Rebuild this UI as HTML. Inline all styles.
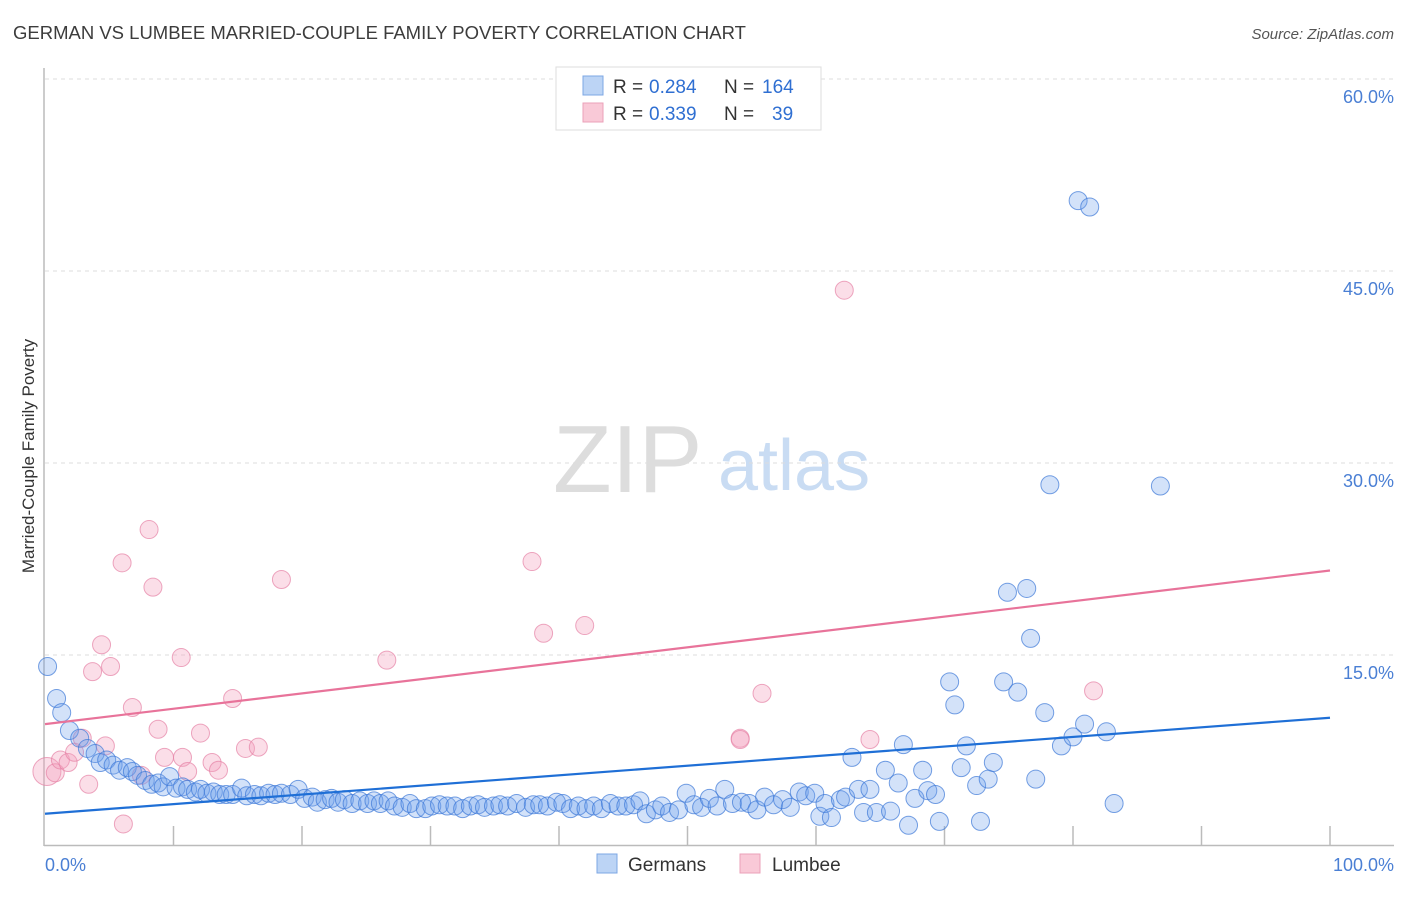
<!DOCTYPE html>
<html><head><meta charset="utf-8"><style>
body{margin:0;background:#fff;font-family:"Liberation Sans",sans-serif;}
svg text{font-family:"Liberation Sans",sans-serif;}
</style></head><body>
<svg width="1406" height="892">
<text x="13" y="39" font-size="18.5" fill="#3c3c3c">GERMAN VS LUMBEE MARRIED-COUPLE FAMILY POVERTY CORRELATION CHART</text>
<text x="1394" y="39" font-size="15" fill="#555" font-style="italic" text-anchor="end">Source: ZipAtlas.com</text>
<text transform="translate(34,456) rotate(-90)" font-size="17" fill="#333" text-anchor="middle">Married-Couple Family Poverty</text>
<g>
<text x="553" y="492" font-size="96" fill="#ddd" font-family="Liberation Serif">ZIP</text>
<text x="718" y="490" font-size="72" fill="#c9dcf3">atlas</text>
</g>
<g id="grid"></g><g id="axes"></g><g id="pts"></g><g id="trend"></g>
<g>
<rect x="556" y="67" width="265" height="63" fill="#fff" stroke="#ddd"/>
<rect x="583" y="76" width="20" height="19" fill="#bcd4f5" stroke="#7da7e4"/>
<rect x="583" y="103" width="20" height="19" fill="#f9c9d7" stroke="#eba1b8"/>
<text x="613" y="93" font-size="19" fill="#333">R =</text>
<text x="649" y="93" font-size="19" fill="#2f6fd2">0.284</text>
<text x="724" y="93" font-size="19" fill="#333">N =</text>
<text x="762" y="93" font-size="19" fill="#2f6fd2">164</text>
<text x="613" y="120" font-size="19" fill="#333">R =</text>
<text x="649" y="120" font-size="19" fill="#2f6fd2">0.339</text>
<text x="724" y="120" font-size="19" fill="#333">N =</text>
<text x="772" y="120" font-size="19" fill="#2f6fd2">39</text>
</g>
<g>
<rect x="597" y="854" width="20" height="19" fill="#bcd4f5" stroke="#7da7e4"/>
<text x="628" y="871" font-size="19" fill="#333">Germans</text>
<rect x="740" y="854" width="20" height="19" fill="#f9c9d7" stroke="#eba1b8"/>
<text x="772" y="871" font-size="19" fill="#333">Lumbee</text>
</g>
</svg>
<script>
const yTicks=[15,30,45,60];
const yTickLabels=["15.0%","30.0%","45.0%","60.0%"];
const xTickLabels=["0.0%","100.0%"];
const germansX=[0.2,0.9,1.3,1.9,2.7,3.3,3.9,4.3,4.8,5.3,5.8,6.4,6.8,7.2,7.8,8.3,8.8,9.2,9.7,10.2,10.7,11.1,11.7,12.1,12.6,13.1,13.6,14.1,14.6,15.3,15.7,16.3,16.8,17.4,17.9,18.4,19.1,19.7,20.2,20.8,21.2,21.8,22.3,22.8,23.3,23.9,24.5,25.1,25.6,26.1,26.7,27.2,27.8,28.4,28.9,29.6,30.1,30.7,31.3,31.9,32.5,33.1,33.7,34.2,34.9,35.4,36.0,36.7,37.4,38.0,38.5,39.1,39.8,40.3,40.9,41.5,42.1,42.7,43.3,44.0,44.6,45.2,45.8,46.3,46.8,47.5,48.0,48.6,49.3,49.9,50.5,51.1,51.7,52.3,52.9,53.5,54.2,54.8,55.4,56.0,56.7,57.4,58.0,58.7,59.2,59.9,60.3,60.7,61.2,61.9,62.3,62.8,63.3,63.7,64.2,64.7,65.4,65.8,66.4,66.8,67.2,67.7,68.3,68.7,69.3,69.6,70.4,70.8,71.3,71.7,72.5,72.8,73.4,73.8,74.6,74.9,75.7,76.4,76.7,77.1,77.8,78.2,79.1,80.0,80.4,80.9,81.3,82.6,83.2,86.8];
const germansY=[14.1,11.6,10.5,9.1,8.5,7.7,7.3,6.6,6.8,6.4,6.0,6.2,5.9,5.6,5.2,4.9,5.0,4.7,5.5,4.6,4.7,4.5,4.3,4.5,4.2,4.3,4.1,4.1,4.1,4.6,4.0,4.1,4.0,4.2,4.1,4.2,4.1,4.5,3.8,3.9,3.5,3.7,3.8,3.5,3.7,3.4,3.6,3.4,3.6,3.4,3.6,3.2,3.1,3.4,3.0,3.0,3.2,3.3,3.2,3.2,3.0,3.2,3.3,3.1,3.2,3.3,3.2,3.4,3.1,3.3,3.3,3.2,3.5,3.4,3.0,3.2,3.0,3.2,3.0,3.4,3.2,3.2,3.3,3.6,2.6,2.9,3.2,2.7,2.9,4.2,3.3,3.1,3.8,3.2,4.5,3.4,3.5,3.4,2.9,3.9,3.3,3.7,3.1,4.3,4.0,4.2,2.4,3.4,2.3,3.7,3.9,7.0,4.5,2.7,4.5,2.7,6.0,2.8,5.0,8.0,1.7,3.8,6.0,4.4,4.1,2.0,12.9,11.1,6.2,7.9,4.8,2.0,5.3,6.6,12.9,19.9,12.1,20.2,16.3,5.3,10.5,28.3,7.9,8.6,50.5,9.6,50.0,9.0,3.4,28.2];
const lumbeeX=[0.15,0.8,1.2,1.8,2.3,2.9,3.4,3.7,4.4,4.7,5.1,6.1,6.8,7.5,8.1,6.0,8.4,8.8,9.3,10.7,10.6,11.1,12.1,13.0,13.5,14.6,15.6,16.6,18.4,26.6,37.9,38.8,42.0,55.8,54.1,54.1,62.2,64.2,81.6];
const lumbeeY=[5.9,5.8,6.8,6.6,7.4,8.5,4.9,13.7,15.8,7.9,14.1,1.8,10.9,5.6,24.8,22.2,20.3,9.2,7.0,7.0,14.8,5.9,8.9,6.6,6.0,11.6,7.7,7.8,20.9,14.6,22.3,16.7,17.3,12.0,8.5,8.4,43.5,8.4,12.2];
const germansTrend=[2.6,10.1];
const lumbeeTrend=[9.6,21.6];
const NS="http://www.w3.org/2000/svg";
const sx=v=>45+v*12.85, sy=v=>847-v*12.8;
function mk(tag,attrs,parent){const e=document.createElementNS(NS,tag);for(const k in attrs)e.setAttribute(k,attrs[k]);document.getElementById(parent).appendChild(e);return e;}
yTicks.forEach((t,i)=>{
 const g=mk('line',{x1:45,x2:1394,y1:sy(t),y2:sy(t),stroke:'#ddd','stroke-dasharray':'4,4'},'grid');
 
 
 const l=mk('text',{x:1394,y:sy(t)+24,'font-size':18,fill:'#4a7fd4','text-anchor':'end'},'grid');
 l.textContent=yTickLabels[i];
 
 
});
mk('line',{x1:44,x2:44,y1:68,y2:846,stroke:'#bbb','stroke-width':1.5},'axes');
mk('line',{x1:44,x2:1394,y1:845.5,y2:845.5,stroke:'#bbb','stroke-width':1.5},'axes');
for(let i=1;i<=10;i++){const t=mk('line',{x1:sx(i*10),x2:sx(i*10),y1:826,y2:845,stroke:'#bbb','stroke-width':1.5},'axes');
 
 }
const xl0=mk('text',{x:45,y:871,'font-size':18,fill:'#4a7fd4'},'axes');xl0.textContent=xTickLabels[0];


const xl1=mk('text',{x:1394,y:871,'font-size':18,fill:'#4a7fd4','text-anchor':'end'},'axes');xl1.textContent=xTickLabels[1];


lumbeeX.forEach((x,i)=>{const c=mk('circle',{cx:sx(x),cy:sy(lumbeeY[i]),r:i===0?14:9,fill:'rgba(243,160,188,0.35)',stroke:'rgba(230,130,165,0.7)','stroke-width':1},'pts');
 
 });
germansX.forEach((x,i)=>{const c=mk('circle',{cx:sx(x),cy:sy(germansY[i]),r:9,fill:'rgba(110,160,235,0.3)',stroke:'rgba(60,120,215,0.7)','stroke-width':1},'pts');
 
 });
const tb=mk('line',{x1:sx(0),x2:sx(100),y1:sy(germansTrend[0]),y2:sy(germansTrend[1]),stroke:'#1f6fd6','stroke-width':2.2},'trend');


const tp=mk('line',{x1:sx(0),x2:sx(100),y1:sy(lumbeeTrend[0]),y2:sy(lumbeeTrend[1]),stroke:'#e8739a','stroke-width':2.2},'trend');


</script>
</body></html>
